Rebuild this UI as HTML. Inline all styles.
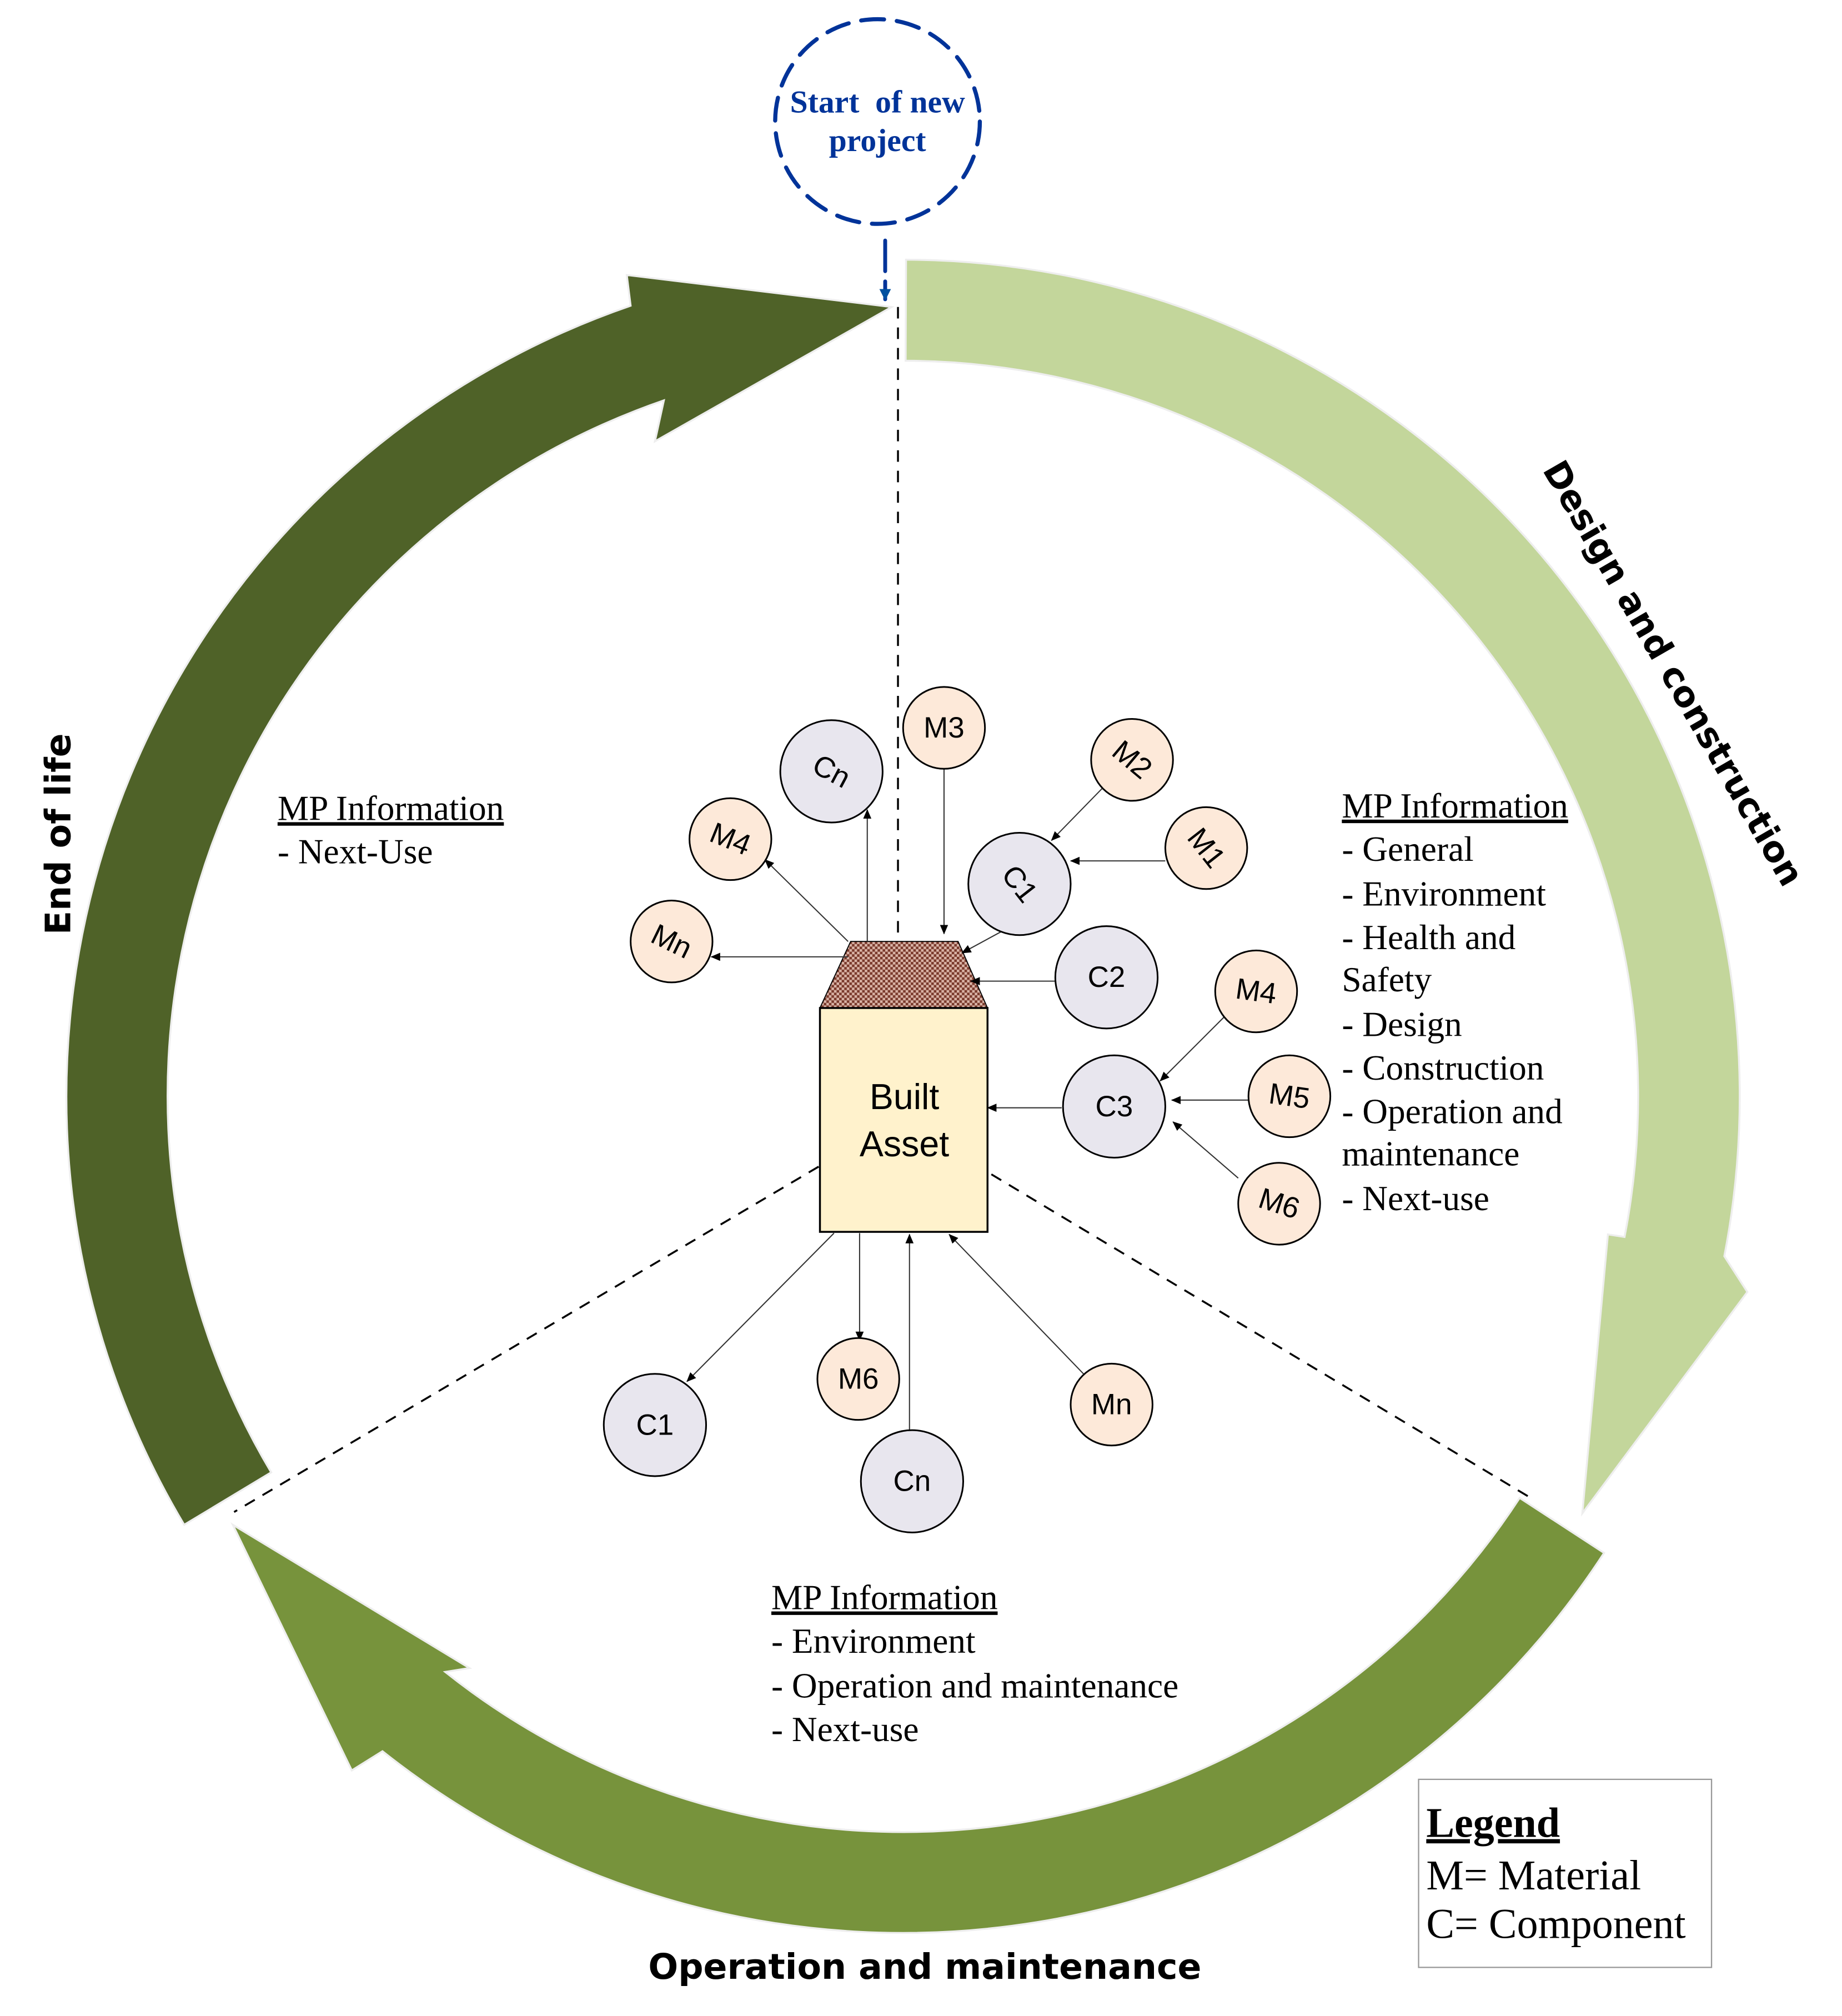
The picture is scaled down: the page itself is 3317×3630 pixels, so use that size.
<!DOCTYPE html>
<html><head><meta charset="utf-8"><style>
html,body{margin:0;padding:0;background:#fff;}
svg{display:block;}
.s{font-family:"Liberation Serif",serif;font-size:27.5px;fill:#000;}
.c{font-family:"Liberation Sans",sans-serif;font-size:23px;fill:#000;text-anchor:middle;dominant-baseline:central;}
.b{font-family:"DejaVu Sans",sans-serif;font-weight:bold;font-size:27.5px;fill:#000;}
</style></head><body>
<svg width="3317" height="3630" viewBox="0 0 1440 1576" preserveAspectRatio="none" xmlns="http://www.w3.org/2000/svg">
<defs>
<pattern id="chk" width="4" height="4" patternUnits="userSpaceOnUse">
<rect width="4" height="4" fill="#d9b3a6"/><rect width="2" height="2" fill="#7a3a2c"/><rect x="2" y="2" width="2" height="2" fill="#7a3a2c"/>
</pattern>
<marker id="ah" markerWidth="8" markerHeight="8" refX="7" refY="4" orient="auto" markerUnits="userSpaceOnUse">
<path d="M0,0.8 L7.5,4 L0,7.2 Z" fill="#000"/></marker>
<marker id="bh" markerWidth="10" markerHeight="10" refX="8" refY="5" orient="auto" markerUnits="userSpaceOnUse">
<path d="M0,0.5 L9,5 L0,9.5 Z" fill="#0050a0"/></marker>
</defs>
<rect width="1440" height="1576" fill="#fff"/>

<path d="M708.3,203 A654,654 0 0 1 1348,982 L1366,1010 L1237,1183 L1257,965 L1270,967 A575,575 0 0 0 708,282 Z" fill="#c3d69b" stroke="#eeeeee" stroke-width="1.5"/>
<path d="M144,1192 A654,654 0 0 1 493,239 L490,215 L697,240 L512,345 L519,313 A575,575 0 0 0 212,1151 Z" fill="#4f6228" stroke="#eeeeee" stroke-width="1.5"/>
<path d="M1254,1214 A654,654 0 0 1 299,1369 L275,1384 L182,1192 L367,1304 L348,1307 A575,575 0 0 0 1188,1171 Z" fill="#77933c" stroke="#eeeeee" stroke-width="1.5"/>

<g stroke="#000" stroke-width="1.5" stroke-dasharray="9,7" fill="none">
<line x1="702" y1="240" x2="702" y2="735"/>
<line x1="640" y1="912" x2="183" y2="1182"/>
<line x1="775" y1="918" x2="1195" y2="1170"/>
</g>

<circle cx="686" cy="95" r="80" fill="none" stroke="#003399" stroke-width="3.2" stroke-dasharray="18,10" stroke-linecap="round"/>
<text x="686" y="88" text-anchor="middle" font-family="Liberation Serif,serif" font-weight="bold" font-size="25" fill="#003399" xml:space="preserve">Start  of new</text>
<text x="686" y="118" text-anchor="middle" font-family="Liberation Serif,serif" font-weight="bold" font-size="25" fill="#003399">project</text>
<line x1="692" y1="188" x2="692" y2="234" stroke="#003399" stroke-width="3" stroke-dasharray="24,8" stroke-linecap="round" marker-end="url(#bh)"/>

<path d="M665,736 L749,736 L772,788 L641,788 Z" fill="url(#chk)" stroke="#000" stroke-width="0.8"/>
<rect x="641" y="788" width="131" height="175" fill="#fff2cc" stroke="#000" stroke-width="1.5"/>
<text x="707" y="867" text-anchor="middle" font-family="Liberation Sans,sans-serif" font-size="28">Built</text>
<text x="707" y="904" text-anchor="middle" font-family="Liberation Sans,sans-serif" font-size="28">Asset</text>

<g stroke="#333" stroke-width="0.9" fill="none" marker-end="url(#ah)">
<line x1="738" y1="601" x2="738" y2="730"/>
<line x1="862" y1="616" x2="822" y2="657"/>
<line x1="911" y1="673" x2="837" y2="673"/>
<line x1="787" y1="726" x2="752" y2="745"/>
<line x1="825" y1="767" x2="759" y2="767"/>
<line x1="957" y1="795" x2="907" y2="845"/>
<line x1="976" y1="860" x2="916" y2="860"/>
<line x1="968" y1="921" x2="917" y2="877"/>
<line x1="830" y1="866" x2="772" y2="866"/>
<line x1="678" y1="736" x2="678" y2="633"/>
<line x1="663" y1="736" x2="598" y2="672"/>
<line x1="663" y1="748" x2="556" y2="748"/>
<line x1="652" y1="964" x2="537" y2="1080"/>
<line x1="672" y1="964" x2="672" y2="1048"/>
<line x1="711" y1="1118" x2="711" y2="965"/>
<line x1="848" y1="1075" x2="742" y2="965"/>
</g>

<g stroke="#000" stroke-width="1.3">
<circle cx="650" cy="603" r="40" fill="#e8e6ee"/>
<circle cx="738" cy="569" r="32" fill="#fde9d9"/>
<circle cx="885" cy="594" r="32" fill="#fde9d9"/>
<circle cx="943" cy="663" r="32" fill="#fde9d9"/>
<circle cx="797" cy="691" r="40" fill="#e8e6ee"/>
<circle cx="571" cy="656" r="32" fill="#fde9d9"/>
<circle cx="525" cy="736" r="32" fill="#fde9d9"/>
<circle cx="865" cy="764" r="40" fill="#e8e6ee"/>
<circle cx="982" cy="775" r="32" fill="#fde9d9"/>
<circle cx="871" cy="865" r="40" fill="#e8e6ee"/>
<circle cx="1008" cy="857" r="32" fill="#fde9d9"/>
<circle cx="1000" cy="941" r="32" fill="#fde9d9"/>
<circle cx="512" cy="1114" r="40" fill="#e8e6ee"/>
<circle cx="671" cy="1078" r="32" fill="#fde9d9"/>
<circle cx="713" cy="1158" r="40" fill="#e8e6ee"/>
<circle cx="869" cy="1098" r="32" fill="#fde9d9"/>
</g>
<text class="c" transform="translate(650,603) rotate(28)">Cn</text>
<text class="c" x="738" y="569">M3</text>
<text class="c" transform="translate(885,594) rotate(40)">M2</text>
<text class="c" transform="translate(943,663) rotate(52)">M1</text>
<text class="c" transform="translate(797,691) rotate(52)">C1</text>
<text class="c" transform="translate(571,656) rotate(22)">M4</text>
<text class="c" transform="translate(525,736) rotate(26)">Mn</text>
<text class="c" x="865" y="764">C2</text>
<text class="c" transform="translate(982,775) rotate(8)">M4</text>
<text class="c" x="871" y="865">C3</text>
<text class="c" transform="translate(1008,857) rotate(8)">M5</text>
<text class="c" transform="translate(1000,941) rotate(18)">M6</text>
<text class="c" x="512" y="1114">C1</text>
<text class="c" x="671" y="1078">M6</text>
<text class="c" x="713" y="1158">Cn</text>
<text class="c" x="869" y="1098">Mn</text>

<text class="s" x="217" y="641" text-decoration="underline">MP Information</text>
<text class="s" x="217" y="675">- Next-Use</text>

<text class="s" x="1049" y="639" text-decoration="underline">MP Information</text>
<text class="s" x="1049" y="673">- General</text>
<text class="s" x="1049" y="708">- Environment</text>
<text class="s" x="1049" y="742">- Health and</text>
<text class="s" x="1049" y="775">Safety</text>
<text class="s" x="1049" y="810">- Design</text>
<text class="s" x="1049" y="844">- Construction</text>
<text class="s" x="1049" y="878">- Operation and</text>
<text class="s" x="1049" y="911">maintenance</text>
<text class="s" x="1049" y="946">- Next-use</text>

<text class="s" x="603" y="1258" text-decoration="underline">MP Information</text>
<text class="s" x="603" y="1292">- Environment</text>
<text class="s" x="603" y="1327">- Operation and maintenance</text>
<text class="s" x="603" y="1361">- Next-use</text>

<rect x="1109" y="1391" width="229" height="147" fill="#fff" stroke="#999" stroke-width="1"/>
<text x="1115" y="1436" font-family="Liberation Serif,serif" font-weight="bold" font-size="33" text-decoration="underline">Legend</text>
<text x="1115" y="1477" font-family="Liberation Serif,serif" font-size="33">M= Material</text>
<text x="1115" y="1515" font-family="Liberation Serif,serif" font-size="33">C= Component</text>

<text class="b" x="723" y="1547" text-anchor="middle">Operation and maintenance</text>
<text class="b" transform="translate(55,652) rotate(-90)" text-anchor="middle">End of life</text>
<text class="b" transform="translate(1300,531) rotate(60)" text-anchor="middle">Design and construction</text>
</svg>
</body></html>
